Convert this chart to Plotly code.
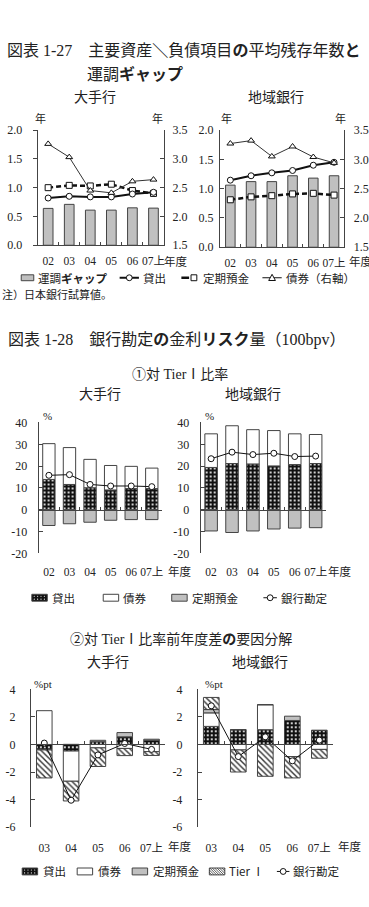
import plotly.graph_objects as go

W, H = 369, 907
def PX(x): return x / W
def PY(y): return 1 - y / H

# ---------------- data ----------------
years1 = ["02", "03", "04", "05", "06", "07上"]
years3 = ["03", "04", "05", "06", "07上"]

# 図表1-27 平均残存年数（年）
gap_major  = [0.64, 0.71, 0.61, 0.61, 0.65, 0.645]
loan_major = [0.82, 0.85, 0.84, 0.84, 0.89, 0.92]
tdep_major = [1.00, 1.04, 1.03, 1.06, 0.95, 0.90]
bond_major = [3.26, 3.03, 2.45, 2.41, 2.61, 2.64]   # right axis

gap_reg  = [1.06, 1.12, 1.12, 1.22, 1.18, 1.22]
loan_reg = [1.145, 1.22, 1.27, 1.31, 1.40, 1.45]
tdep_reg = [0.81, 0.86, 0.88, 0.91, 0.92, 0.89]
bond_reg = [3.27, 3.32, 3.05, 3.22, 3.04, 2.94]     # right axis

# 図表1-28 ① 対TierI比率（%）
r_loan_major = [13.9, 11.6, 10.1, 9.1, 9.7, 9.7]
r_bond_major = [16.4, 16.9, 13.0, 11.2, 10.2, 9.4]
r_tdep_major = [-7.2, -6.4, -5.7, -4.8, -4.5, -4.5]
r_bank_major = [15.8, 16.1, 11.6, 10.9, 10.9, 10.6]

r_loan_reg = [19.4, 21.2, 21.0, 20.1, 20.7, 21.2]
r_bond_reg = [15.4, 17.3, 15.7, 16.2, 14.1, 13.3]
r_tdep_reg = [-9.7, -10.4, -9.7, -8.8, -8.4, -8.2]
r_bank_reg = [23.4, 26.4, 25.3, 25.9, 24.4, 24.6]

# 図表1-28 ② 前年度差の要因分解（%pt）
d_loan_major = [-0.35, -0.48, 0.20, 0.55, 0.30]
d_bond_major = [2.45, -2.19, -0.25, -0.29, -0.52]
d_tdep_major = [-0.05, 0.00, 0.10, 0.31, 0.08]
d_tier_major = [-2.03, -1.43, -1.35, -0.52, -0.28]
d_bank_major = [0.10, -4.05, -0.76, 0.07, -0.36]

d_loan_reg = [1.31, 1.07, 1.07, 1.74, 1.02]
d_bond_reg = [0.98, -0.40, 1.81, -0.88, -0.36]
d_tdep_reg = [0.24, 0.00, 0.00, 0.31, 0.00]
d_tier_reg = [0.88, -1.60, -2.31, -1.55, -0.64]
d_bank_reg = [2.80, -0.88, 0.55, -1.19, 0.31]

# tick labels
ticks_c2 = [-20, -10, 0, 10, 20, 30, 40]
ticktext_c2 = ["-20", "-10", "0", "10", "20", "30", "40"]
ticks_c3 = [-6, -4, -2, 0, 2, 4]
ticktext_c3 = ["-6", "-4", "-2", "0", "2", "4"]

# ---------------- styles ----------------
JP = "Noto Sans CJK JP"
NUM = "Liberation Serif, Noto Sans CJK JP"
INK = "#222222"
AX = "#444444"
GRAY = "#c0c0c0"
LOAN_PAT = dict(shape=".", bgcolor="#111111", fgcolor="#ffffff", size=4, solidity=0.22, fillmode="replace")
TIER_PAT = dict(shape="\\", bgcolor="#ffffff", fgcolor="#333333", size=4, solidity=0.35, fillmode="replace")

fig = go.Figure()

def add_bar(x, y, xa, ya, color, width, pattern=None):
    m = dict(color=color, line=dict(color=AX, width=1))
    if pattern:
        m["pattern"] = pattern
    fig.add_trace(go.Bar(x=x, y=y, xaxis=xa, yaxis=ya, marker=m, width=width,
                         showlegend=False, hoverinfo="skip"))

def add_line(x, y, xa, ya, symbol, lw, dash="solid", size=6, lc="#111111"):
    fig.add_trace(go.Scatter(x=x, y=y, xaxis=xa, yaxis=ya, mode="lines+markers",
                             line=dict(color=lc, width=lw, dash=dash),
                             marker=dict(symbol=symbol, size=size, color="white",
                                         line=dict(color="#111111", width=1)),
                             showlegend=False, hoverinfo="skip", cliponaxis=False))

# chart 1
add_bar(years1, gap_major, "x", "y", GRAY, 0.46)
add_line(years1, tdep_major, "x", "y", "square", 2.5, dash="5px,3px")
add_line(years1, loan_major, "x", "y", "circle", 2)
add_line(years1, bond_major, "x", "y2", "triangle-up", 1, lc="#333333")

add_bar(years1, gap_reg, "x2", "y3", GRAY, 0.46)
add_line(years1, tdep_reg, "x2", "y3", "square", 2.5, dash="5px,3px")
add_line(years1, loan_reg, "x2", "y3", "circle", 2)
add_line(years1, bond_reg, "x2", "y4", "triangle-up", 1, lc="#333333")

# chart 2
for xa, ya, lo, bo, td, bk in [("x3", "y5", r_loan_major, r_bond_major, r_tdep_major, r_bank_major),
                               ("x4", "y6", r_loan_reg, r_bond_reg, r_tdep_reg, r_bank_reg)]:
    add_bar(years1, lo, xa, ya, "#111111", 0.6, LOAN_PAT)
    add_bar(years1, bo, xa, ya, "white", 0.6)
    add_bar(years1, td, xa, ya, GRAY, 0.6)
    add_line(years1, bk, xa, ya, "circle", 1)

# chart 3
for xa, ya, lo, bo, td, ti, bk in [("x5", "y7", d_loan_major, d_bond_major, d_tdep_major, d_tier_major, d_bank_major),
                                   ("x6", "y8", d_loan_reg, d_bond_reg, d_tdep_reg, d_tier_reg, d_bank_reg)]:
    add_bar(years3, lo, xa, ya, "#111111", 0.58, LOAN_PAT)
    add_bar(years3, bo, xa, ya, "white", 0.58)
    add_bar(years3, td, xa, ya, GRAY, 0.58)
    add_bar(years3, ti, xa, ya, "white", 0.58, TIER_PAT)
    add_line(years3, bk, xa, ya, "circle", 1)

# helper traces for zero-line axes
for xa, ya in [("x7", "y5"), ("x8", "y6"), ("x9", "y7"), ("x10", "y8")]:
    fig.add_trace(go.Scatter(x=[], y=[], xaxis=xa, yaxis=ya, showlegend=False))

# ---------------- axes ----------------
tickfont = dict(family=NUM, size=12, color=INK)
xtickfont = dict(family=NUM, size=11.5, color=INK)

def xcat(dom, anchor, n, standoff, line=True):
    d = dict(domain=[PX(dom[0]), PX(dom[1])], anchor=anchor, type="category",
             range=[-0.5, n - 0.5], showgrid=False, zeroline=False, tickfont=xtickfont,
             tickangle=0, fixedrange=True, ticklabelstandoff=standoff)
    if line:
        d.update(showline=True, linecolor=AX, linewidth=1, ticks="inside",
                 tickson="boundaries", ticklen=3, tickcolor=AX)
    else:
        d.update(showline=False, ticks="")
    return d

def yax(dom, anchor, rng, ticks="inside", standoff=3, **kw):
    d = dict(domain=[PY(dom[1]), PY(dom[0])], anchor=anchor, range=rng,
             showgrid=False, zeroline=False, showline=True,
             linecolor=AX, linewidth=1, ticks=ticks, ticklen=4, tickcolor=AX,
             tickfont=tickfont, fixedrange=True, ticklabelstandoff=standoff)
    d.update(kw)
    return d

def yright(over, anchor, rng, standoff):
    return dict(overlaying=over, side="right", anchor=anchor, range=rng, dtick=0.5,
                tickformat=".1f", showgrid=False, zeroline=False, showline=True,
                linecolor=AX, linewidth=1, ticks="inside", ticklen=4, tickcolor=AX,
                tickfont=tickfont, fixedrange=True, ticklabelstandoff=standoff)

def zero_axis(over, dom_y, rng, n):
    pos = PY(dom_y[1]) + (0 - rng[0]) / (rng[1] - rng[0]) * (PY(dom_y[0]) - PY(dom_y[1]))
    return dict(overlaying=over, anchor="free", position=pos, range=[-0.5, n - 0.5],
                tickvals=[i + 0.5 for i in range(n)], showticklabels=False, ticks="inside",
                ticklen=3, tickcolor=AX, showline=True, linecolor=AX, linewidth=1,
                showgrid=False, zeroline=False, fixedrange=True)

C1Y_L = (125, 242); C1Y_R = (125, 244)
C2Y = (422, 555); C3Y = (693, 833)

layout_axes = dict(
    xaxis=xcat((39, 170), "y", 6, 5),
    yaxis=yax(C1Y_L, "x", [0, 2], ticks="outside", standoff=8, dtick=0.5, tickformat=".1f"),
    yaxis2=yright("y", "x", [1.5, 3.5], 5),
    xaxis2=xcat((228, 357), "y3", 6, 5),
    yaxis3=yax(C1Y_R, "x2", [0, 2], ticks="inside", standoff=3, dtick=0.5, tickformat=".1f"),
    yaxis4=yright("y3", "x2", [1.5, 3.5], 6),
    xaxis3=xcat((40, 168), "y5", 6, 10, line=False),
    yaxis5=yax(C2Y, "x3", [-20, 40], standoff=8, tickvals=ticks_c2, ticktext=ticktext_c2),
    xaxis4=xcat((208, 338), "y6", 6, 10, line=False),
    yaxis6=yax(C2Y, "x4", [-20, 40], standoff=8, tickvals=ticks_c2, ticktext=ticktext_c2),
    xaxis5=xcat((32, 171), "y7", 5, 12, line=False),
    yaxis7=yax(C3Y, "x5", [-6, 4], standoff=12, tickvals=ticks_c3, ticktext=ticktext_c3),
    xaxis6=xcat((205, 345), "y8", 5, 12, line=False),
    yaxis8=yax(C3Y, "x6", [-6, 4], standoff=12, tickvals=ticks_c3, ticktext=ticktext_c3),
    xaxis7=zero_axis("x3", C2Y, [-20, 40], 6),
    xaxis8=zero_axis("x4", C2Y, [-20, 40], 6),
    xaxis9=zero_axis("x5", C3Y, [-6, 4], 5),
    xaxis10=zero_axis("x6", C3Y, [-6, 4], 5),
)

# ---------------- texts ----------------
ann = []
def text(x, y, s, size=11, anchor="left", family=JP, color=INK, yanchor="middle"):
    ann.append(dict(x=PX(x), y=PY(y), xref="paper", yref="paper", text=s, showarrow=False,
                    xanchor=anchor, yanchor=yanchor, align="left",
                    font=dict(family=family, size=size, color=color)))

text(5, 44, "図表 1-27　主要資産<b>＼</b>負債項目<b>の</b>平均残存年数<b>と</b>", size=16, family=NUM)
text(88, 67.5, "運調<b>ギャップ</b>", size=16)
text(98, 90, "大手行", size=14, anchor="center")
text(286, 90, "地域銀行", size=14, anchor="center")
for x in (42, 163, 235, 353):
    text(x, 113, "年", size=11, anchor="center")
text(168, 258, "年度", size=11.5)
text(360, 258, "年度", size=11.5)
text(0, 292, "注）日本銀行試算値。", size=11)

text(6, 338, "図表 1-28　銀行勘定<b>の</b>金利<b>リスク</b>量（100bpv）", size=16, family=NUM)
text(187, 373, "①対 TierⅠ比率", size=14, anchor="center", family=NUM)
text(104, 392, "大手行", size=14, anchor="center")
text(262, 392, "地域銀行", size=14, anchor="center")
text(42, 415, "%", size=11, family=NUM)
text(210, 415, "%", size=11, family=NUM)
text(172, 573, "年度", size=11.5)
text(338, 573, "年度", size=11.5)

text(188, 642, "②対 TierⅠ比率前年度差<b>の</b>要因分解", size=14, anchor="center", family=NUM)
text(112, 664, "大手行", size=14, anchor="center")
text(269, 664, "地域銀行", size=14, anchor="center")
text(33, 688, "%pt", size=11, family=NUM)
text(210, 688, "%pt", size=11, family=NUM)
text(172, 852, "年度", size=11.5)
text(348, 852, "年度", size=11.5)

# ---------------- legends (manual) ----------------
shp = []
def rect(x0, x1, yc, h, fill):
    shp.append(dict(type="rect", xref="paper", yref="paper", x0=PX(x0), x1=PX(x1),
                    y0=PY(yc + h / 2), y1=PY(yc - h / 2), fillcolor=fill,
                    line=dict(color=AX, width=1)))
def seg(x0, y0, x1, y1, w=1, color="#111111"):
    shp.append(dict(type="line", xref="paper", yref="paper", x0=PX(x0), y0=PY(y0),
                    x1=PX(x1), y1=PY(y1), line=dict(color=color, width=w)))
def circ(xc, yc, r, fill="white", lw=1):
    shp.append(dict(type="circle", xref="paper", yref="paper", x0=PX(xc - r), x1=PX(xc + r),
                    y0=PY(yc + r), y1=PY(yc - r), fillcolor=fill,
                    line=dict(color="#111111", width=lw)))
def sq(xc, yc, r):
    shp.append(dict(type="rect", xref="paper", yref="paper", x0=PX(xc - r), x1=PX(xc + r),
                    y0=PY(yc + r), y1=PY(yc - r), fillcolor="white", line=dict(color="#111111", width=1)))
def tri(xc, yc, r):
    p = "M {} {} L {} {} L {} {} Z".format(PX(xc), PY(yc - r), PX(xc - r), PY(yc + r * 0.8),
                                          PX(xc + r), PY(yc + r * 0.8))
    shp.append(dict(type="path", xref="paper", yref="paper", path=p, fillcolor="white",
                    line=dict(color="#111111", width=1)))
def loan_swatch(x0, x1, yc, h):
    rect(x0, x1, yc, h, "#111111")
    x = x0 + 2.5
    while x < x1 - 1:
        for dy in (-1.5, 1.5):
            circ(x, yc + dy, 0.6, fill="white", lw=0)
        x += 3.5
def tier_swatch(x0, x1, yc, h):
    rect(x0, x1, yc, h, "white")
    top = yc - h / 2
    xs = x0 - h
    while xs < x1:
        t0 = max(0, x0 - xs); t1 = min(h, x1 - xs)
        if t1 > t0:
            seg(xs + t0, top + t0, xs + t1, top + t1, w=0.8, color="#333333")
        xs += 2.5

# legend 1
y = 275
rect(22, 35, y, 6, GRAY); text(37, y, "運調<b>ギャップ</b>", size=11.5)
seg(124, y, 144, y, w=2); circ(134, y, 3); text(146, y, "貸出", size=11.5)
seg(188, y, 196, y, w=2.5); sq(201, y, 3); text(208, y, "定期預金", size=11.5)
seg(272, y, 292, y, w=1); tri(282, y, 3.5); text(294, y, "債券（右軸）", size=11.5)

# legend 2
y = 600
loan_swatch(33, 49, y, 7); text(52, y, "貸出", size=11.5)
rect(107, 123, y, 7, "white"); text(125, y, "債券", size=11.5)
rect(178, 194, y, 7, GRAY); text(197, y, "定期預金", size=11.5)
seg(273, y, 287, y); circ(280, y, 3); text(289, y, "銀行勘定", size=11.5)

# legend 3
y = 878
loan_swatch(23, 39, y, 7); text(42, y, "貸出", size=11.5)
rect(80, 96, y, 7, "white"); text(99, y, "債券", size=11.5)
rect(137, 153, y, 7, GRAY); text(156, y, "定期預金", size=11.5)
tier_swatch(217, 233, y, 7); text(235, y, "Tier Ⅰ", size=11.5)
seg(287, y, 300, y); circ(293.5, y, 3); text(302, y, "銀行勘定", size=11.5)

fig.update_layout(
    width=W, height=H, margin=dict(l=0, r=0, t=0, b=0),
    paper_bgcolor="white", plot_bgcolor="white", barmode="relative",
    showlegend=False, annotations=ann, shapes=shp,
    font=dict(family=JP, color=INK),
    **layout_axes
)

fig.write_html("out.html", include_plotlyjs=True, config=dict(displayModeBar=False, staticPlot=True))
